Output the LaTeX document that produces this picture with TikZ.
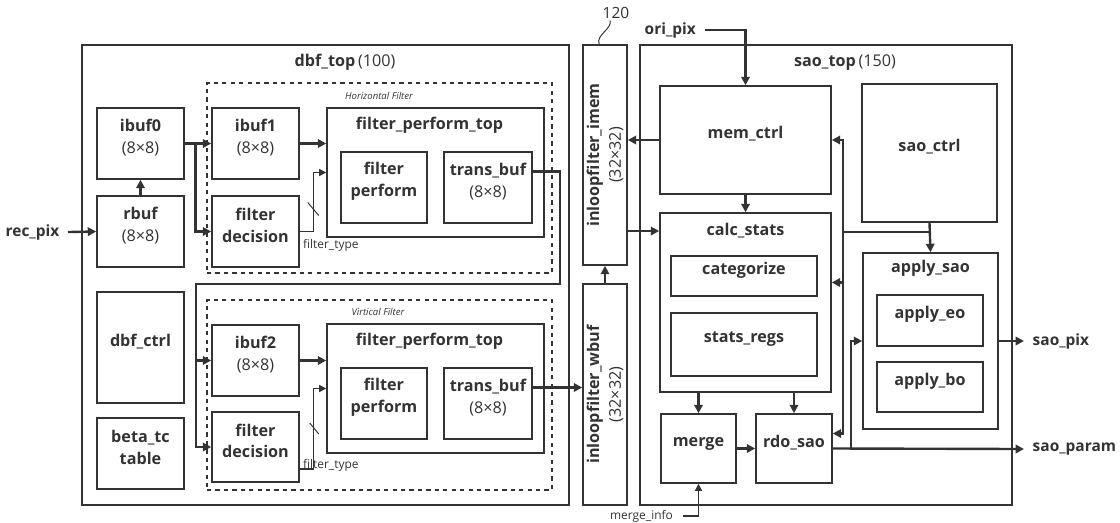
\documentclass[tikz,border=0pt]{standalone}
\usepackage{fontspec}
\setmainfont{Open Sans}
\definecolor{DIAgray}{HTML}{333333}
\usetikzlibrary{arrows.meta, positioning, calc, fit}

\begin{document}
\begin{tikzpicture}[x=0.025cm, y=-0.025cm,
      blk/.style={draw=DIAgray, line width=1.1pt, inner sep=0pt, align=center,
         text=DIAgray, font=\bfseries\fontsize{11.5}{15.5}\selectfont},
      flt/.style={draw=DIAgray, line width=0.9pt, dashed, inner sep=0pt},
      lbl/.style={text=DIAgray, inner sep=1pt, align=center,
         font=\bfseries\fontsize{11.5}{15.5}\selectfont},
      pin/.style={lbl, inner xsep=6pt, font=\bfseries\fontsize{11}{13}\selectfont},
      tag/.style={text=DIAgray, inner sep=0pt, font=\fontsize{8.5}{10}\selectfont},
      bus/.style={DIAgray, line width=1.7pt, -{Stealth[inset=0pt, length=6pt, width=6pt]}},
      sig/.style={DIAgray, line width=1pt, -{Stealth[inset=0pt, length=5pt, width=5pt]}}]
   \useasboundingbox (0,0) rectangle (1120,522);
   \node[blk, fit={(82,45) (569,505)}] (dbftop) {};
   \node[blk, fit={(640,45) (1012,505)}] (saotop) {};
   \node[flt, fit={(207,83) (552,273)}] (hfilt) {};
   \node[flt, fit={(207,300) (552,490)}] (vfilt) {};
   \node[lbl] (dbft) at (345,62) {dbf\_top\,{\mdseries(100)}};
   \node[lbl] (saot) at (845,63) {sao\_top\,{\mdseries(150)}};
   \node[tag, font=\itshape\fontsize{6.8}{8}\selectfont] (htag) at (379,96) {Horizontal Filter};
   \node[tag, font=\itshape\fontsize{6.8}{8}\selectfont] (vtag) at (378,312) {Virtical Filter};
   \node[blk, fit={(97,108) (184,179)}] (ibuf0) {ibuf0\\\mdseries(8×8)};
   \node[blk, fit={(97,196) (184,267)}] (rbuf) {rbuf\\\mdseries(8×8)};
   \node[blk, fit={(97,292) (184,403)}] (dbfctrl) {dbf\_ctrl};
   \node[blk, fit={(97,418) (184,489)}] (betatc) {beta\_tc\\table};
   \node[blk, fit={(212,108) (299,179)}] (ibuf1) {ibuf1\\\mdseries(8×8)};
   \node[blk, fit={(212,196) (299,267)}] (fdec1) {filter\\decision};
   \node[blk, fit={(327,108) (544,237)}] (fpt1) {};
   \node[lbl] (fpt1t) at ($(fpt1.north)+(-6,18)$) {filter\_perform\_top};
   \node[blk, fit={(341,152) (427,223)}] (fperf1) {filter\\perform};
   \node[blk, fit={(444,152) (532,223)}] (tbuf1) {trans\_buf\\\mdseries(8×8)};
   \node[blk, fit={(212,325) (299,396)}] (ibuf2) {ibuf2\\\mdseries(8×8)};
   \node[blk, fit={(212,412) (299,482)}] (fdec2) {filter\\decision};
   \node[blk, fit={(327,324) (544,453)}] (fpt2) {};
   \node[lbl] (fpt2t) at ($(fpt2.north)+(-6,18)$) {filter\_perform\_top};
   \node[blk, fit={(341,368) (427,439)}] (fperf2) {filter\\perform};
   \node[blk, fit={(444,368) (532,439)}] (tbuf2) {trans\_buf\\\mdseries(8×8)};
   \node[tag, anchor=west] (ftype1) at ($(fdec1.east)+(3,14)$) {filter\_type};
   \node[tag, anchor=west] (ftype2) at ($(fdec2.east)+(3,18)$) {filter\_type};
   \node[blk, fit={(583,45) (627,265)}] (imem) {};
   \node[lbl, rotate=90] (imemt) at (imem.center) {inloopfilter\_imem\\\mdseries(32×32)};
   \node[blk, fit={(583,284) (627,505)}] (wbuf) {};
   \node[lbl, rotate=90] (wbuft) at (wbuf.center) {inloopfilter\_wbuf\\\mdseries(32×32)};
   \node[text=DIAgray, inner sep=1pt, font=\fontsize{11}{13}\selectfont] (n120) at (616,13) {120};
   \node[blk, fit={(660,86) (831,194)}] (memctrl) {mem\_ctrl};
   \node[blk, fit={(660,213) (831,392)}] (calcstats) {};
   \node[lbl] (calct) at ($(calcstats.north)+(0,18)$) {calc\_stats};
   \node[blk, fit={(671,256) (817,296)}] (categ) {categorize};
   \node[blk, fit={(671,313) (817,376)}] (statsregs) {stats\_regs};
   \node[blk, fit={(661,414) (736,483)}] (merge) {merge};
   \node[blk, fit={(756,414) (832,483)}] (rdosao) {rdo\_sao};
   \node[blk, fit={(862,84) (997,222)}] (saoctrl) {sao\_ctrl};
   \node[blk, fit={(863,253) (998,429)}] (applysao) {};
   \node[lbl] (applyt) at ($(applysao.north)+(0,16)$) {apply\_sao};
   \node[blk, fit={(877,295) (983,346)}] (applyeo) {apply\_eo};
   \node[blk, fit={(877,362) (983,412)}] (applybo) {apply\_bo};
   \node[pin, anchor=east] (recpix) at (68,232) {rec\_pix};
   \node[pin, anchor=west] (oripix) at (636,30) {ori\_pix};
   \node[pin, anchor=west] (saopix) at (1024,341) {sao\_pix};
   \node[pin, anchor=west] (saoparam) at (1024,449) {sao\_param};
   \node[tag, anchor=east, inner xsep=7pt] (minfo) at (683,516) {merge\_info};
   \coordinate (lead) at ($(imem.north west)+(17,0)$);
   \coordinate (tb1out) at ($(tbuf1.east)+(0,-16)$);
   \coordinate (tb2out) at ($(tbuf2.east)+(0,-16)$);
   \coordinate (loopR) at (560,284);
   \coordinate (loopL) at (196,284);
   \coordinate (imout) at ($(imem.east)+(0,76)$);
   \coordinate (ctl) at (843,232);
   \draw[DIAgray, line width=0.7pt] (lead) .. controls +(-4,-9) and +(3,8) .. ($(n120.south)+(-6,0)$);
   \draw[bus] (recpix.east) -- (rbuf.west);
   \draw[bus] (rbuf.north) -- (ibuf0.south);
   \draw[bus] (ibuf0.east) -- (ibuf1.west);
   \draw[bus] ($(ibuf0.east)!0.4!(ibuf1.west)$) |- (fdec1.west);
   \draw[bus] (ibuf1.east) -- (ibuf1.east -| fpt1.west);
   \draw[sig] (fdec1.east) -- ++(14,0) |- (fpt1.west);
   \draw[DIAgray, line width=0.7pt] ($(fdec1.east)+(8,-29)$) -- ++(11,13);
   \draw[bus] (tb1out) -| (loopR) -- (loopL) |- (ibuf2.west);
   \draw[bus] (loopL |- ibuf2.west) |- (fdec2.west);
   \draw[bus] (ibuf2.east) -- (ibuf2.east -| fpt2.west);
   \draw[sig] ($(fdec2.east)+(0,22)$) -- ++(14,0) |- (fpt2.west);
   \draw[DIAgray, line width=0.7pt] ($(fdec2.east)+(10,-24)$) -- ++(9,11);
   \draw[bus] (tb2out) -- (tb2out -| wbuf.west);
   \draw[bus] (wbuf.north) -- (imem.south);
   \draw[bus] (memctrl.west) -- (memctrl.west -| imem.east);
   \draw[bus] (imout) -- (imout -| calcstats.west);
   \draw[bus] (oripix.east) -| (memctrl.north);
   \draw[bus] (memctrl.south) -- (calcstats.north);
   \draw[bus] (calcstats.south -| merge.north) -- (merge.north);
   \draw[bus] (calcstats.south -| rdosao.north) -- (rdosao.north);
   \draw[bus] (merge.east) -- (rdosao.west);
   \draw[sig] (minfo.east) -| (merge.south);
   \draw[bus] (saoctrl.south) -- (applysao.north);
   \draw[DIAgray, line width=1.7pt] (ctl) -- (ctl -| saoctrl.south);
   \draw[bus] (ctl) |- (memctrl.east);
   \draw[bus] (ctl) |- ($(calcstats.east)+(0,-20)$);
   \draw[bus] (ctl) |- ($(rdosao.east)+(0,-15)$);
   \draw[bus] (rdosao.east) -- (saoparam.west);
   \draw[bus] ($(rdosao.east)+(18,0)$) |- (applysao.west);
   \draw[bus] (applysao.east) -- (saopix.west);
\end{tikzpicture}
\end{document}
